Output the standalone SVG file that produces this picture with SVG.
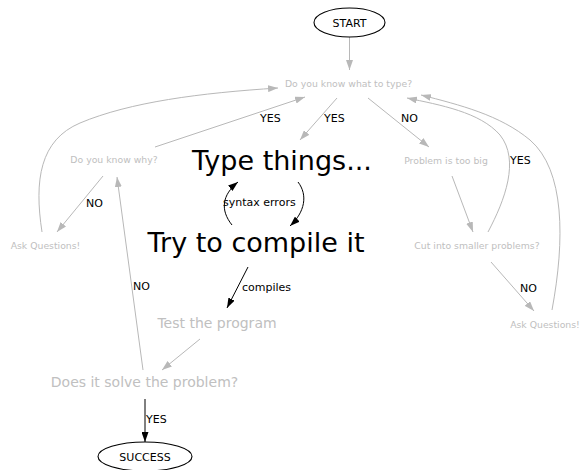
<svg xmlns="http://www.w3.org/2000/svg" width="582" height="470" viewBox="0 0 582 470">
  <style>
    text { font-family: "DejaVu Sans", "Liberation Sans", sans-serif; text-anchor: middle; }
    .dim { fill: #c0c0c0; }
    .big { font-size: 27px; fill: #000; }
    .lbl { font-size: 11px; fill: #000; text-anchor: start; }
    .small { font-size: 9.3px; }
    .mid { font-size: 14px; }
    .term { font-size: 11px; fill: #000; }
    .edge { fill: none; stroke: #b8b8b8; stroke-width: 1; }
    .edge.ink { stroke: #000; }
    ellipse { fill: #fff; stroke: #000; stroke-width: 1.1; }
  </style>
  <defs>
    <marker id="arrGray" markerUnits="userSpaceOnUse" markerWidth="10" markerHeight="7" refX="10" refY="3.5" orient="auto">
      <path d="M0,0 L10,3.5 L0,7 z" fill="#b8b8b8"/>
    </marker>
    <marker id="arrInk" markerUnits="userSpaceOnUse" markerWidth="10" markerHeight="7" refX="10" refY="3.5" orient="auto">
      <path d="M0,0 L10,3.5 L0,7 z" fill="#000"/>
    </marker>
  </defs>

  <g id="connectors">
    <path class="edge" marker-end="url(#arrGray)" d="M349.5,37 L349.5,70"/>
    <path class="edge" marker-end="url(#arrGray)" d="M155,147 L305,97"/>
    <path class="edge" marker-end="url(#arrGray)" d="M42,232 C34,180 40,140 80,123 C130,102 200,93 278,88"/>
    <path class="edge" marker-end="url(#arrGray)" d="M337,98 L300,140"/>
    <path class="edge" marker-end="url(#arrGray)" d="M368,98 L429,147"/>
    <path class="edge" marker-end="url(#arrGray)" d="M452,176 L473,232"/>
    <path class="edge" marker-end="url(#arrGray)" d="M488,232 C505,200 520,160 500,135 C480,112 440,105 407,98"/>
    <path class="edge" marker-end="url(#arrGray)" d="M552,310 C565,240 565,170 530,140 C500,115 460,105 421,95"/>
    <path class="edge" marker-end="url(#arrGray)" d="M491,262 L534,311"/>
    <path class="edge" marker-end="url(#arrGray)" d="M103,176 L57,232"/>
    <path class="edge" marker-end="url(#arrGray)" d="M143,370 L117,177"/>
    <path class="edge" marker-end="url(#arrGray)" d="M200,339 L162,370"/>
    <path class="edge ink" marker-end="url(#arrInk)" d="M232,225 C220,210 222,195 238,182"/>
    <path class="edge ink" marker-end="url(#arrInk)" d="M298,182 C308,195 305,212 290,226"/>
    <path class="edge ink" marker-end="url(#arrInk)" d="M248,267 L227,308"/>
    <path class="edge ink" marker-end="url(#arrInk)" d="M145,399 L145,442"/>

    <text class="lbl" x="260" y="122">YES</text>
    <text class="lbl" x="324" y="122">YES</text>
    <text class="lbl" x="401" y="122">NO</text>
    <text class="lbl" x="510" y="164">YES</text>
    <text class="lbl" x="520" y="292">NO</text>
    <text class="lbl" x="86" y="207">NO</text>
    <text class="lbl" x="133" y="290">NO</text>
    <text class="lbl" x="223" y="206">syntax errors</text>
    <text class="lbl" x="242" y="291">compiles</text>
    <text class="lbl" x="146" y="423">YES</text>
  </g>

  <g id="start">
    <ellipse cx="349.5" cy="22.5" rx="35.5" ry="14.5"/>
    <text class="term" x="349.5" y="26.5">START</text>
  </g>
  <g id="know-what">
    <text class="dim small" x="348.5" y="87">Do you know what to type?</text>
  </g>
  <g id="know-why">
    <text class="dim small" x="114" y="163">Do you know why?</text>
  </g>
  <g id="ask-left">
    <text class="dim small" x="45.5" y="249">Ask Questions!</text>
  </g>
  <g id="type-things">
    <text class="big" x="282" y="170">Type things...</text>
  </g>
  <g id="compile">
    <text class="big" x="256" y="252">Try to compile it</text>
  </g>
  <g id="too-big">
    <text class="dim small" x="446" y="164">Problem is too big</text>
  </g>
  <g id="cut-smaller">
    <text class="dim small" x="477" y="249">Cut into smaller problems?</text>
  </g>
  <g id="ask-right">
    <text class="dim small" x="545" y="328">Ask Questions!</text>
  </g>
  <g id="test">
    <text class="dim mid" x="217" y="328">Test the program</text>
  </g>
  <g id="solve">
    <text class="dim mid" x="144.5" y="387">Does it solve the problem?</text>
  </g>
  <g id="success">
    <ellipse cx="145" cy="456.5" rx="47" ry="14.5"/>
    <text class="term" x="145" y="460.5">SUCCESS</text>
  </g>
</svg>
